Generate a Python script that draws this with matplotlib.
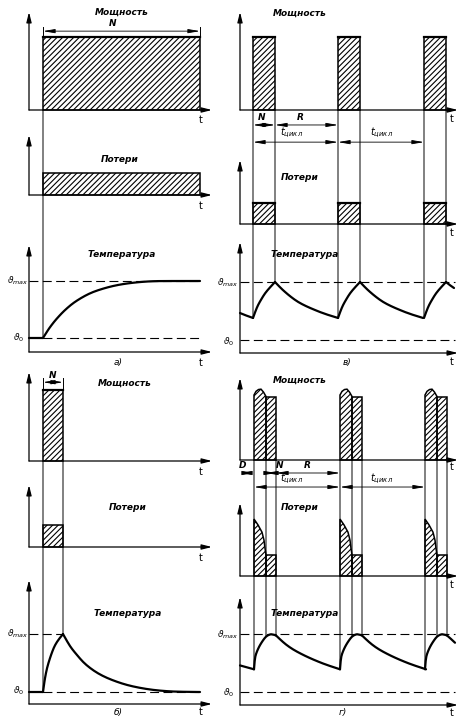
import matplotlib
matplotlib.use('Agg')
import matplotlib.pyplot as plt
from matplotlib.patches import PathPatch, ConnectionPatch
from matplotlib.path import Path

plt.rcParams['font.family'] = ['DejaVu Sans']
plt.rcParams['mathtext.fontset'] = 'dejavusans'
plt.rcParams['hatch.linewidth'] = 0.8

# ------------------------------------------------------------------ data
THETA0 = 20.0      # initial temperature
THETAMAX = 80.0    # maximal temperature

# а) continuous duty
a_on, a_off = 1.4, 17.1
a_power = 1.0
a_loss = 0.30
a_rise_t = [1.4, 1.7, 2.0, 2.5, 3.0, 3.5, 4.2, 4.8, 5.6, 6.4, 7.4, 8.4, 9.4, 10.4, 11.4, 12.4, 13.5, 17.1]
a_rise_v = [20, 25, 30, 37, 43, 48.5, 55, 59.5, 64.5, 68.5, 72, 74.8, 76.8, 78.2, 79.2, 79.8, 80, 80]

# б) short-time duty
b_on, b_off = 1.4, 3.4
b_power = 1.0
b_loss = 0.30
b_rise_t = [1.4, 1.5, 1.6, 1.8, 2.1, 2.35, 2.6, 3.0, 3.4]
b_rise_v = [20, 27.5, 34.5, 45, 55.2, 62.5, 68.6, 75, 80]
b_fall_t = [3.4, 3.9, 4.3, 4.8, 5.4, 6.1, 6.9, 7.8, 8.8, 9.8, 11.0, 12.4, 13.8, 15.1, 17.1]
b_fall_v = [80, 70.7, 64.5, 58.3, 51, 44.8, 39.2, 34.5, 30.5, 27.2, 24.4, 22.1, 20.8, 20.2, 20]

# в) intermittent duty
v_on = [1.3, 9.8, 18.4]
v_len = 2.2
v_power = 1.0
v_loss = 0.29
v_lead_t = [0.0, 0.6, 1.3]
v_lead_v = [47.9, 45.3, 42.8]
v_rise_dt = [0, 0.25, 0.5, 0.85, 1.2, 1.7, 2.2]
v_rise_v = [42.8, 50, 56.2, 62.5, 68.4, 74.5, 80]
v_fall_dt = [0, 0.5, 1.0, 1.6, 2.3, 3.1, 4.0, 5.1, 6.3]
v_fall_v = [80, 74.5, 69.7, 64.5, 59.3, 55, 51, 46.5, 42.8]
v_tail_dt = [0, 0.4, 0.8]
v_tail_v = [80, 76.5, 73.8]

# г) intermittent duty with starts
g_on = [1.4, 10.0, 18.5]
g_start_len = 1.2
g_run_len = 1.0
g_start_dt = [0, 0.2, 0.45, 0.7, 0.95, 1.2]
g_start_power = [0.89, 0.94, 0.965, 0.97, 0.93, 0.87]
g_run_power = 0.86
g_loss_dt = [0, 0.4, 0.8, 1.0, 1.1, 1.2]
g_start_loss = [0.78, 0.70, 0.60, 0.49, 0.38, 0.29]
g_run_loss = 0.29
g_lead_t = [0.0, 0.7, 1.4]
g_lead_v = [47.5, 45.5, 43.5]
g_rise_dt = [0, 0.07, 0.2, 0.4, 0.6, 0.9, 1.2, 1.5, 1.8, 2.2]
g_rise_v = [43.5, 54, 59.5, 64.5, 68.6, 73.5, 77.5, 79.3, 80, 78.5]
g_fall_dt = [0, 0.4, 1.0, 1.7, 2.5, 3.3, 4.2, 5.2, 6.4]
g_fall_v = [78.5, 74.5, 69, 64, 59.5, 55.5, 51.5, 47.5, 43.5]
g_tail_dt = [0, 0.4, 0.8]
g_tail_v = [78.5, 75, 71]

# ------------------------------------------------------------------ figure
W, H = 459, 719
fig = plt.figure(figsize=(W / 100, H / 100), dpi=100)
LW_AX = 0.9
LW_CURVE = 1.6
LW_THIN = 0.7
HATCH = '//////'


def make_ax(x0, x1, y_base, y_top, xmax, ylim):
    ax = fig.add_axes([x0 / W, 1 - y_base / H, (x1 - x0) / W, (y_base - y_top) / H])
    ax.set_xlim(0, xmax)
    ax.set_ylim(*ylim)
    ax.axis('off')
    ap = dict(arrowstyle='-|>,head_length=0.6,head_width=0.15', lw=LW_AX,
              color='k', shrinkA=0, shrinkB=0)
    ax.annotate('', xy=(xmax, ylim[0]), xytext=(0, ylim[0]), arrowprops=ap,
                annotation_clip=False)
    ax.annotate('', xy=(0, ylim[1]), xytext=(0, ylim[0]), arrowprops=ap,
                annotation_clip=False)
    return ax


def hatch_fill(ax, xs, ys, lw=1.1):
    ax.fill(xs, ys, facecolor='none', edgecolor='k', hatch=HATCH, lw=lw,
            clip_on=False, joinstyle='miter')


def smooth(ax, xs, ys, lw=LW_CURVE):
    pts = list(zip(xs, ys))
    if len(pts) == 2:
        verts, codes = pts, [Path.MOVETO, Path.LINETO]
    else:
        verts, codes = [pts[0]], [Path.MOVETO]
        for i in range(1, len(pts) - 1):
            if i == len(pts) - 2:
                end = pts[-1]
            else:
                end = ((pts[i][0] + pts[i + 1][0]) / 2, (pts[i][1] + pts[i + 1][1]) / 2)
            verts += [pts[i], end]
            codes += [Path.CURVE3, Path.CURVE3]
    ax.add_patch(PathPatch(Path(verts, codes), fill=False, lw=lw, ec='k',
                           capstyle='round', joinstyle='round', clip_on=False))


def dashed(ax, t0, t1, y):
    ax.plot([t0, t1], [y, y], color='k', lw=0.8, ls=(0, (8, 4)), clip_on=False)


def vline(axA, axB, t, yA, yB):
    con = ConnectionPatch(xyA=(t, yA), coordsA=axA.transData, xyB=(t, yB),
                          coordsB=axB.transData, lw=LW_THIN, color='k')
    fig.add_artist(con)


def dim(ax, t0, t1, y):
    ax.annotate('', xy=(t1, y), xytext=(t0, y),
                arrowprops=dict(arrowstyle='<|-|>,head_length=0.7,head_width=0.12',
                                lw=0.6, color='k', shrinkA=0, shrinkB=0),
                annotation_clip=False)


def ptext(x, y, s, size=6.5, ha='center', weight='bold', style='italic'):
    fig.text(x / W, 1 - y / H, s, ha=ha, va='center', fontsize=size,
             fontweight=weight, fontstyle=style)


TMAX_L = (212 - 29) / 10
TMAX_R = (458 - 240) / 10

# ======================= а) ==========================
a_p = make_ax(29, 212, 110, 12, TMAX_L, (0, 1.342))
a_l = make_ax(29, 212, 195, 135, TMAX_L, (0, 0.822))
a_t = make_ax(29, 212, 352, 245, TMAX_L, (5.26, 117.9))
hatch_fill(a_p, [a_on, a_on, a_off, a_off], [0, a_power, a_power, 0])
a_p.plot([a_on, a_off], [a_power, a_power], color='k', lw=1.6, clip_on=False)
a_p.plot([a_on, a_on], [a_power, 1.14], color='k', lw=LW_THIN, clip_on=False)
a_p.plot([a_off, a_off], [a_power, 1.14], color='k', lw=LW_THIN, clip_on=False)
dim(a_p, a_on, a_off, 1.08)
hatch_fill(a_l, [a_on, a_on, a_off, a_off], [0, a_loss, a_loss, 0])
dashed(a_t, 0, a_off, THETAMAX)
dashed(a_t, a_on, a_off, THETA0)
smooth(a_t, [0, a_on], [THETA0, THETA0])
smooth(a_t, a_rise_t, a_rise_v)
vline(a_p, a_t, a_on, 0, THETA0)

# ======================= б) ==========================
b_p = make_ax(29, 212, 461, 372, TMAX_L, (0, 1.254))
b_l = make_ax(29, 212, 547, 485, TMAX_L, (0, 0.846))
b_t = make_ax(29, 212, 704, 580, TMAX_L, (7.59, 135.9))
hatch_fill(b_p, [b_on, b_on, b_off, b_off], [0, b_power, b_power, 0])
b_p.plot([b_on, b_off], [b_power, b_power], color='k', lw=1.6, clip_on=False)
b_p.plot([b_on, b_on], [b_power, 1.17], color='k', lw=LW_THIN, clip_on=False)
b_p.plot([b_off, b_off], [b_power, 1.17], color='k', lw=LW_THIN, clip_on=False)
dim(b_p, b_on, b_off, 1.11)
hatch_fill(b_l, [b_on, b_on, b_off, b_off], [0, b_loss, b_loss, 0])
dashed(b_t, 0, b_off, THETAMAX)
dashed(b_t, b_on, a_off, THETA0)
smooth(b_t, [0, b_on], [THETA0, THETA0])
smooth(b_t, b_rise_t, b_rise_v)
smooth(b_t, b_fall_t, b_fall_v)
vline(b_p, b_t, b_on, 0, THETA0)
vline(b_p, b_t, b_off, 0, THETAMAX)

# ======================= в) ==========================
v_p = make_ax(240, 458, 110, 12, TMAX_R, (0, 1.342))
v_l = make_ax(240, 458, 224, 160, TMAX_R, (0, 0.884))
v_t = make_ax(240, 458, 353, 242, TMAX_R, (6.55, 121.4))
for t0 in v_on:
    t1 = t0 + v_len
    hatch_fill(v_p, [t0, t0, t1, t1], [0, v_power, v_power, 0])
    v_p.plot([t0, t1], [v_power, v_power], color='k', lw=1.6, clip_on=False)
    hatch_fill(v_l, [t0, t0, t1, t1], [0, v_loss, v_loss, 0])
    v_l.plot([t0, t1], [v_loss, v_loss], color='k', lw=1.6, clip_on=False)
    smooth(v_t, [t0 + d for d in v_rise_dt], v_rise_v)
    vline(v_p, v_t, t0, 0, v_rise_v[0])
    vline(v_p, v_t, t1, 0, THETAMAX)
for t0 in v_on[:-1]:
    smooth(v_t, [t0 + v_len + d for d in v_fall_dt], v_fall_v)
smooth(v_t, v_lead_t, v_lead_v)
smooth(v_t, [v_on[-1] + v_len + d for d in v_tail_dt], v_tail_v)
dashed(v_t, 0, 21.5, THETAMAX)
dashed(v_t, 0, 21.5, THETA0)
dim(v_p, v_on[0], v_on[0] + v_len, -0.205)
dim(v_p, v_on[0] + v_len, v_on[1], -0.205)
dim(v_p, v_on[0], v_on[1], -0.44)
dim(v_p, v_on[1], v_on[2], -0.44)

# ======================= г) ==========================
g_p = make_ax(240, 458, 460, 378, TMAX_R, (0, 1.123))
g_l = make_ax(240, 458, 576, 503, TMAX_R, (0, 1.0))
g_t = make_ax(240, 458, 705, 597, TMAX_R, (6.55, 118.3))
for t0 in g_on:
    tr = t0 + g_start_len
    t1 = tr + g_run_len
    xs = [t0] + [t0 + d for d in g_start_dt] + [tr]
    ys = [0] + g_start_power + [0]
    hatch_fill(g_p, xs, ys)
    hatch_fill(g_p, [tr, tr, t1, t1], [0, g_run_power, g_run_power, 0])
    xs = [t0] + [t0 + d for d in g_loss_dt] + [tr]
    ys = [0] + g_start_loss + [0]
    hatch_fill(g_l, xs, ys)
    hatch_fill(g_l, [tr, tr, t1, t1], [0, g_run_loss, g_run_loss, 0])
    smooth(g_t, [t0 + d for d in g_rise_dt], g_rise_v)
    vline(g_p, g_t, t0, 0, g_rise_v[0])
    vline(g_p, g_t, tr, 0, 77.5)
    vline(g_p, g_t, t1, 0, g_rise_v[-1])
for t0 in g_on[:-1]:
    smooth(g_t, [t0 + g_start_len + g_run_len + d for d in g_fall_dt], g_fall_v)
smooth(g_t, g_lead_t, g_lead_v)
smooth(g_t, [g_on[-1] + g_start_len + g_run_len + d for d in g_tail_dt], g_tail_v)
dashed(g_t, 0, 21.5, THETAMAX)
dashed(g_t, 0, 21.5, THETA0)
g_off0 = g_on[0] + g_start_len + g_run_len
dim(g_p, 0, g_on[0], -0.178)
dim(g_p, g_on[0] + g_start_len, g_off0, -0.178)
dim(g_p, g_off0, g_on[1], -0.178)
dim(g_p, g_on[0], g_on[1], -0.37)
dim(g_p, g_on[1], g_on[2], -0.37)

# ======================= texts ==========================
for (x, y) in [(122, 12), (300, 13), (125, 383), (300, 380)]:
    ptext(x, y, 'Мощность')
for (x, y) in [(120, 160), (300, 178), (128, 508), (300, 508)]:
    ptext(x, y, 'Потери')
for (x, y) in [(122, 255), (305, 255), (128, 613), (305, 613)]:
    ptext(x, y, 'Температура')
for (x, y) in [(201, 120), (201, 206), (201, 363), (201, 472), (201, 558), (201, 712),
               (452, 119), (452, 233), (452, 362), (452, 467), (452, 585), (452, 713)]:
    ptext(x, y, 't', size=7, weight='normal', style='normal')
ptext(118, 363, 'а)', size=6.5, weight='normal')
ptext(118, 712, 'б)', size=6.5, weight='normal')
ptext(347, 362, 'в)', size=6.5, weight='normal')
ptext(343, 712, 'г)', size=6.5, weight='normal')
ptext(113, 24, 'N', size=6.5)
ptext(53, 375, 'N', size=6.5)
ptext(262, 117, 'N', size=6.5)
ptext(300, 117, 'R', size=6.5)
ptext(243, 466, 'D', size=6.5)
ptext(280, 466, 'N', size=6.5)
ptext(307, 466, 'R', size=6.5)
for (x, y) in [(292, 133), (382, 133), (292, 479), (382, 479)]:
    ptext(x, y, r'$t_{цикл}$', size=7, weight='normal')
for (x, y) in [(28, 281), (238, 283), (28, 634), (238, 635)]:
    ptext(x, y, r'$\vartheta_{max}$', size=6.5, ha='right', weight='normal')
for (x, y) in [(24, 338), (234, 342), (24, 691), (234, 693)]:
    ptext(x, y, r'$\vartheta_0$', size=6.5, ha='right', weight='normal')

fig.savefig('out.png', dpi=100)
